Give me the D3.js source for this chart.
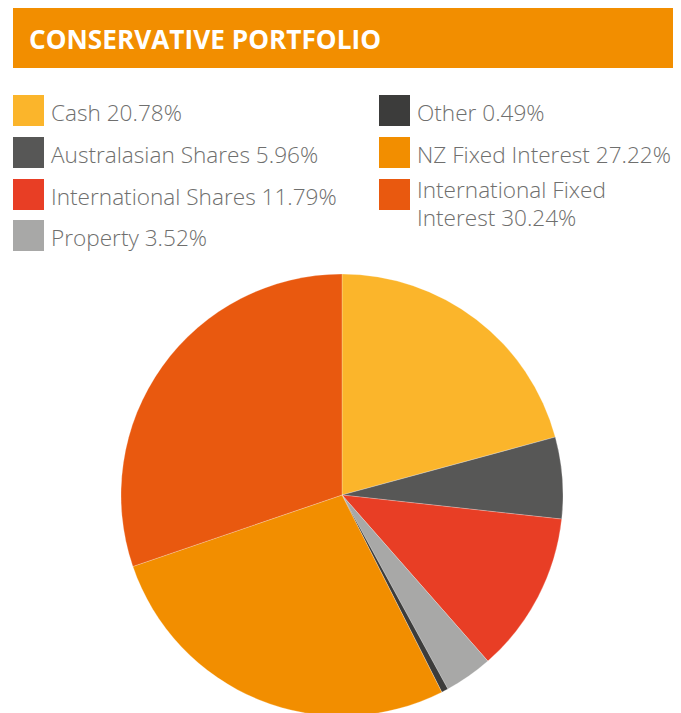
<!DOCTYPE html>
<html><head><meta charset="utf-8">
<script src="https://cdn.jsdelivr.net/npm/d3@7"></script>
<style>body{margin:0;background:#fff}</style>
</head><body>
<script>
const title = "CONSERVATIVE PORTFOLIO";
const categories = ["Cash", "Australasian Shares", "International Shares", "Property", "Other", "NZ Fixed Interest", "International Fixed Interest"];
const values = [20.78, 5.96, 11.79, 3.52, 0.49, 27.22, 30.24];
const colors = ["#FBB52B", "#575756", "#E83E25", "#A8A8A7", "#3C3C3B", "#F28E00", "#E9590F"];
// legend layout: column, row, and line breaks
const legendLines = [
  ["Cash 20.78%"], ["Australasian Shares 5.96%"], ["International Shares 11.79%"], ["Property 3.52%"],
  ["Other 0.49%"], ["NZ Fixed Interest 27.22%"], ["International Fixed", "Interest 30.24%"]
];
const legendPos = [[0,0],[0,1],[0,2],[0,3],[1,0],[1,1],[1,2]];

const W = 681, H = 713;
const svg = d3.select("body").append("svg").attr("width", W).attr("height", H);

svg.append("rect").attr("x", 13).attr("y", 8).attr("width", 660).attr("height", 60).attr("fill", "#F28E00");
svg.append("text").attr("x", 29).attr("y", 48.5).text(title)
  .attr("fill", "#fff").attr("font-family", "Open Sans").attr("font-weight", 700)
  .attr("font-size", 26.5).attr("textLength", 352).attr("lengthAdjust", "spacingAndGlyphs");

const colX = [13, 379], rowY = [95, 137, 179, 220];
const lg = svg.append("g");
legendLines.forEach((lines, i) => {
  const [c, r] = legendPos[i];
  const g = lg.append("g").attr("transform", `translate(${colX[c]},${rowY[r]})`);
  g.append("rect").attr("width", 31).attr("height", 31).attr("fill", colors[i]);
  const y0 = lines.length > 1 ? 18.5 : 25.5;
  lines.forEach((t, j) => {
    g.append("text").attr("x", 38).attr("y", y0 + j * 28.5).text(t)
      .attr("fill", "#6f6f6e").attr("font-family", "Open Sans").attr("font-weight", 300)
      .attr("font-size", 22.6);
  });
});

const cx = 342, cy = 495, R = 221;
const pie = d3.pie().sort(null).value(d => d)(values);
const arc = d3.arc().innerRadius(0).outerRadius(R);
svg.append("g").attr("transform", `translate(${cx},${cy})`)
  .selectAll("path").data(pie).join("path")
  .attr("d", arc).attr("fill", (d, i) => colors[i])
  .attr("stroke", "#fff").attr("stroke-width", 0.4).attr("stroke-opacity", 0.6);
</script>
</body></html>
